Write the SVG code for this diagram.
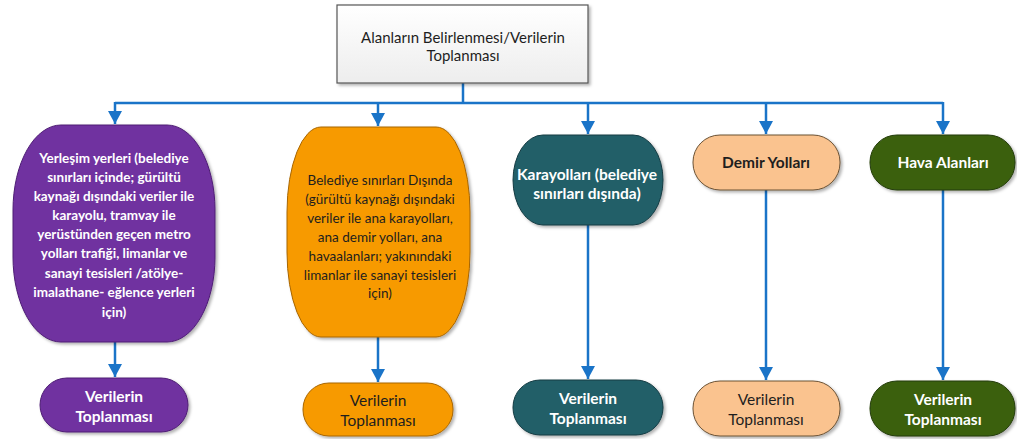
<svg xmlns="http://www.w3.org/2000/svg" width="1017" height="439" viewBox="0 0 1017 439">
<defs>
<marker id="arr" markerUnits="userSpaceOnUse" markerWidth="14" markerHeight="14" refX="13" refY="7" orient="auto">
<path d="M0,0 L13,7 L0,14 Z" fill="#1A74C8"/>
</marker>
<linearGradient id="gbox" x1="0" y1="0" x2="0" y2="1">
<stop offset="0" stop-color="#FFFFFF"/>
<stop offset="1" stop-color="#EDEDED"/>
</linearGradient>
<filter id="sh" x="-10%" y="-10%" width="125%" height="125%">
<feDropShadow dx="2" dy="2" stdDeviation="1.5" flood-color="#000" flood-opacity="0.3"/>
</filter>
</defs>
<style>
.t{font-family:Lato,"Liberation Sans",sans-serif;font-size:13.5px;text-anchor:middle;}
.l{font-size:15.5px;}
.m{font-size:15px;}
.w{fill:#FFFFFF;font-weight:bold;}
.d{fill:#1E1E1E;}
.db{fill:#1E1E1E;font-weight:bold;}
.con{stroke:#1A74C8;stroke-width:2.5;fill:none;}
.purple{fill:#7030A0;stroke:#4E1E74;stroke-width:1;}
.orange{fill:#F79A06;stroke:#A86600;stroke-width:1;}
.teal{fill:#215E68;stroke:#143C43;stroke-width:1;}
.peach{fill:#FAC38F;stroke:#6B5235;stroke-width:1;}
.green{fill:#3A600E;stroke:#223A07;stroke-width:1;}
</style>
<rect width="1017" height="439" fill="#FFFFFF"/>

<g id="connectors">
<polyline class="con" points="463,83 463,103"/>
<polyline class="con" points="115,103 943,103"/>
<line class="con" x1="115" y1="102" x2="115" y2="124" marker-end="url(#arr)"/>
<line class="con" x1="378" y1="102" x2="378" y2="126" marker-end="url(#arr)"/>
<line class="con" x1="588" y1="102" x2="588" y2="134" marker-end="url(#arr)"/>
<line class="con" x1="766" y1="102" x2="766" y2="134" marker-end="url(#arr)"/>
<line class="con" x1="943" y1="102" x2="943" y2="134" marker-end="url(#arr)"/>
<line class="con" x1="115" y1="342" x2="115" y2="377" marker-end="url(#arr)"/>
<line class="con" x1="378" y1="337" x2="378" y2="382" marker-end="url(#arr)"/>
<line class="con" x1="588" y1="225" x2="588" y2="379" marker-end="url(#arr)"/>
<line class="con" x1="766" y1="190" x2="766" y2="380" marker-end="url(#arr)"/>
<line class="con" x1="943" y1="190" x2="943" y2="380" marker-end="url(#arr)"/>
</g>

<g id="top">
<rect x="337" y="5" width="251" height="78" fill="url(#gbox)" stroke="#555555" stroke-width="1.2" filter="url(#sh)"/>
<text class="t m d" x="463" y="43">Alanların Belirlenmesi/Verilerin</text>
<text class="t m d" x="463" y="61">Toplanması</text>
</g>

<g id="n1">
<rect class="purple" x="13" y="125" width="202" height="217" rx="48" ry="85" filter="url(#sh)"/>
<text class="t w" x="114" y="163">Yerleşim yerleri (belediye</text>
<text class="t w" x="114" y="182">sınırları içinde; gürültü</text>
<text class="t w" x="114" y="201">kaynağı dışındaki veriler ile</text>
<text class="t w" x="114" y="220">karayolu, tramvay ile</text>
<text class="t w" x="114" y="239">yerüstünden geçen metro</text>
<text class="t w" x="114" y="258">yolları trafiği, limanlar ve</text>
<text class="t w" x="114" y="278">sanayi tesisleri /atölye-</text>
<text class="t w" x="114" y="297">imalathane- eğlence yerleri</text>
<text class="t w" x="114" y="317">için)</text>
</g>

<g id="n2">
<rect class="orange" x="287" y="127" width="183" height="210" rx="34" ry="85" filter="url(#sh)"/>
<text class="t d" x="380" y="185">Belediye sınırları Dışında</text>
<text class="t d" x="380" y="204">(gürültü kaynağı dışındaki</text>
<text class="t d" x="380" y="223">veriler ile ana karayolları,</text>
<text class="t d" x="380" y="242">ana demir yolları, ana</text>
<text class="t d" x="380" y="261">havaalanları; yakınındaki</text>
<text class="t d" x="380" y="280">limanlar ile sanayi tesisleri</text>
<text class="t d" x="380" y="298">için)</text>
</g>

<g id="n3">
<rect class="teal" x="513" y="135" width="150" height="90" rx="30" ry="45" filter="url(#sh)"/>
<text class="t l w" x="587" y="180">Karayolları (belediye</text>
<text class="t l w" x="587" y="199">sınırları dışında)</text>
</g>

<g id="n4">
<rect class="peach" x="693" y="135" width="147" height="55" rx="27" ry="27" filter="url(#sh)"/>
<text class="t l db" x="766" y="168">Demir Yolları</text>
</g>

<g id="n5">
<rect class="green" x="870" y="135" width="145" height="55" rx="27" ry="27" filter="url(#sh)"/>
<text class="t l w" x="943" y="168">Hava Alanları</text>
</g>

<g id="b1">
<rect class="purple" x="40" y="378" width="148" height="54" rx="27" ry="27" filter="url(#sh)"/>
<text class="t l w" x="114" y="402">Verilerin</text>
<text class="t l w" x="114" y="422">Toplanması</text>
</g>

<g id="b2">
<rect class="orange" x="303" y="383" width="150" height="53" rx="26" ry="26" filter="url(#sh)"/>
<text class="t l d" x="378" y="406">Verilerin</text>
<text class="t l d" x="378" y="426">Toplanması</text>
</g>

<g id="b3">
<rect class="teal" x="513" y="380" width="150" height="55" rx="27" ry="27" filter="url(#sh)"/>
<text class="t l w" x="588" y="404">Verilerin</text>
<text class="t l w" x="588" y="424">Toplanması</text>
</g>

<g id="b4">
<rect class="peach" x="693" y="381" width="147" height="55" rx="27" ry="27" filter="url(#sh)"/>
<text class="t l d" x="766" y="405">Verilerin</text>
<text class="t l d" x="766" y="425">Toplanması</text>
</g>

<g id="b5">
<rect class="green" x="870" y="381" width="145" height="55" rx="27" ry="27" filter="url(#sh)"/>
<text class="t l w" x="943" y="405">Verilerin</text>
<text class="t l w" x="943" y="425">Toplanması</text>
</g>
</svg>
